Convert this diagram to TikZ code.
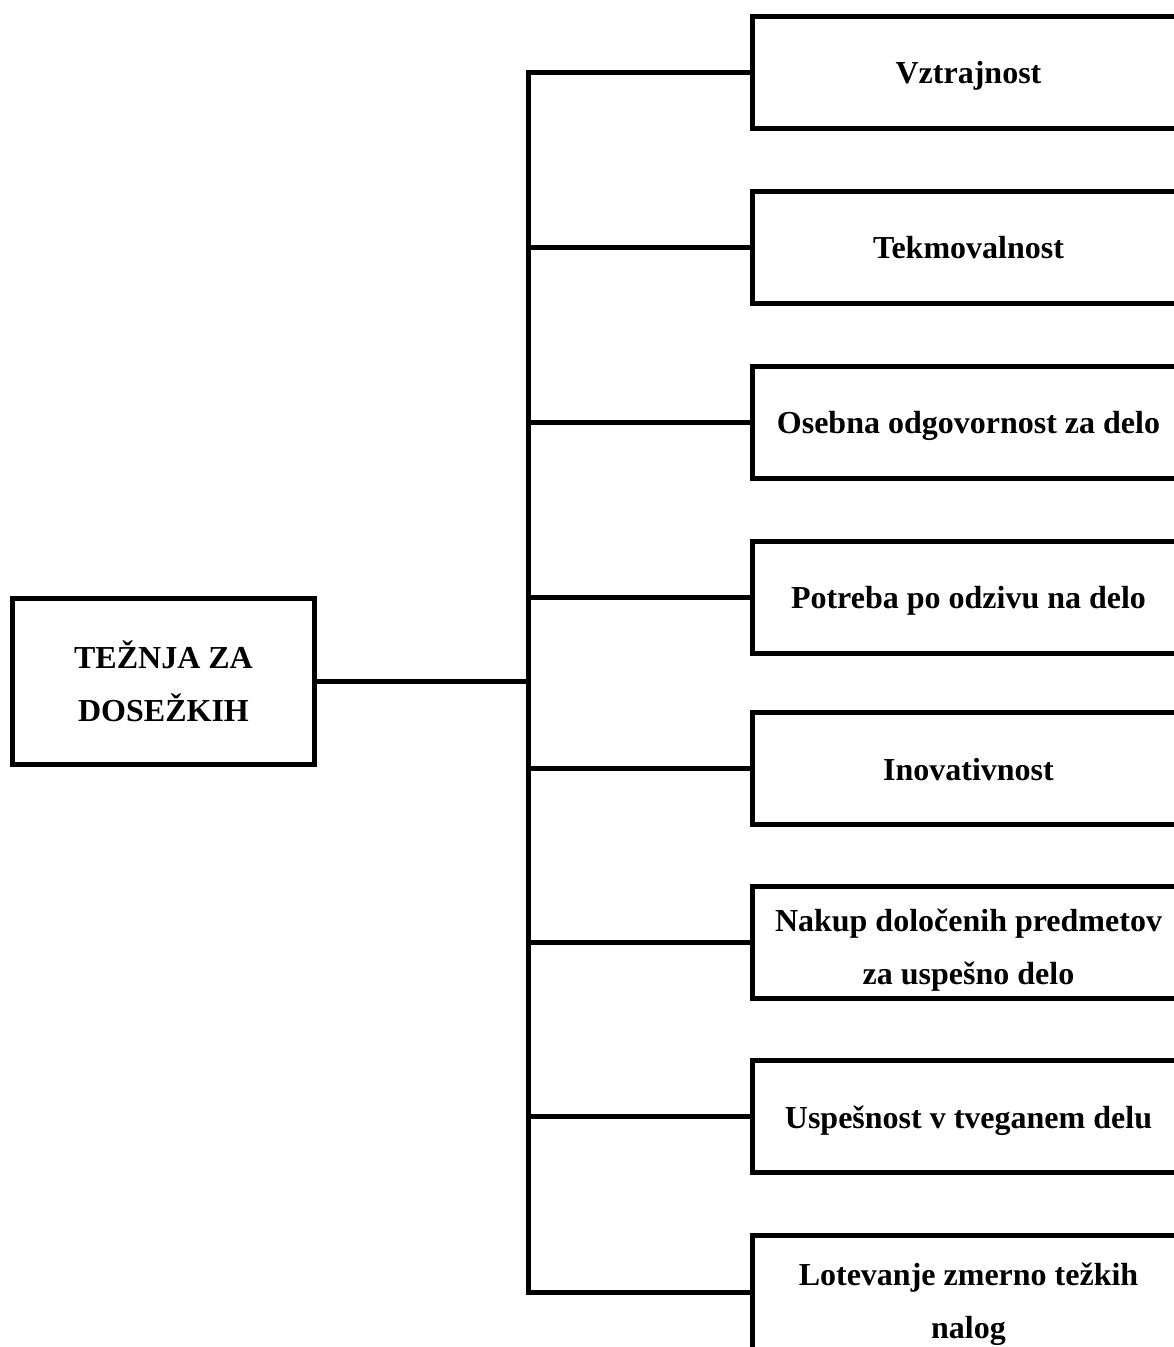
\documentclass[tikz,border=0pt]{standalone}
\usepackage{fontspec}
\setmainfont{Liberation Serif}
\begin{document}
\begin{tikzpicture}[x=1pt,y=-1pt,
  boxline/.style={line width=5pt},
  txt/.style={font=\fontsize{32}{53}\selectfont\bfseries,align=center,inner sep=0pt},
  item/.style={boxline,draw,rectangle,minimum width=432pt,minimum height=112pt,inner sep=0pt},
  mainbox/.style={boxline,draw,rectangle,minimum width=302pt,minimum height=166pt,inner sep=0pt,txt},
  conn/.style={line width=5pt}]
\clip (0,0) rectangle (1174,1347);
\useasboundingbox (0,0) rectangle (1174,1347);
\node[mainbox] (main) at (163.5,681.5) {TEŽNJA ZA\\DOSEŽKIH};
\node[item] (b1) at (968.5,72) {};
\node[item] (b2) at (968.5,247) {};
\node[item] (b3) at (968.5,422) {};
\node[item] (b4) at (968.5,597) {};
\node[item] (b5) at (968.5,768.5) {};
\node[item] (b6) at (968.5,942.5) {};
\node[item] (b7) at (968.5,1116.5) {};
\node[item,minimum height=160pt] (b8) at (968.5,1315.5) {};
\node[txt] (t1) at ([yshift=-4pt]b1.center) {Vztrajnost};
\node[txt] (t2) at ([yshift=-1pt]b2.center) {Tekmovalnost};
\node[txt] (t3) at ([yshift=-4pt]b3.center) {Osebna odgovornost za delo};
\node[txt] (t4) at ([yshift=-4pt]b4.center) {Potreba po odzivu na delo};
\node[txt] (t5) at ([yshift=-1pt]b5.center) {Inovativnost};
\node[txt] (t6) at ([yshift=-8pt]b6.center) {Nakup določenih predmetov\\za uspešno delo};
\node[txt] (t7) at ([yshift=-4pt]b7.center) {Uspešnost v tveganem delu};
\node[txt] (t8) at (968.5,1304) {Lotevanje zmerno težkih\\nalog};
\coordinate (trunk) at (528,681.5);
\coordinate (j8) at (528,1292);
\draw[conn] (main.east) -- (trunk);
\draw[conn,line cap=rect] (trunk |- b1.west) -- (j8);
\foreach \b in {b1,b2,b3,b4,b5,b6,b7}
  \draw[conn] (trunk |- \b.west) -- (\b.west);
\draw[conn] (j8) -- (j8 -| b8.west);
\end{tikzpicture}
\end{document}
